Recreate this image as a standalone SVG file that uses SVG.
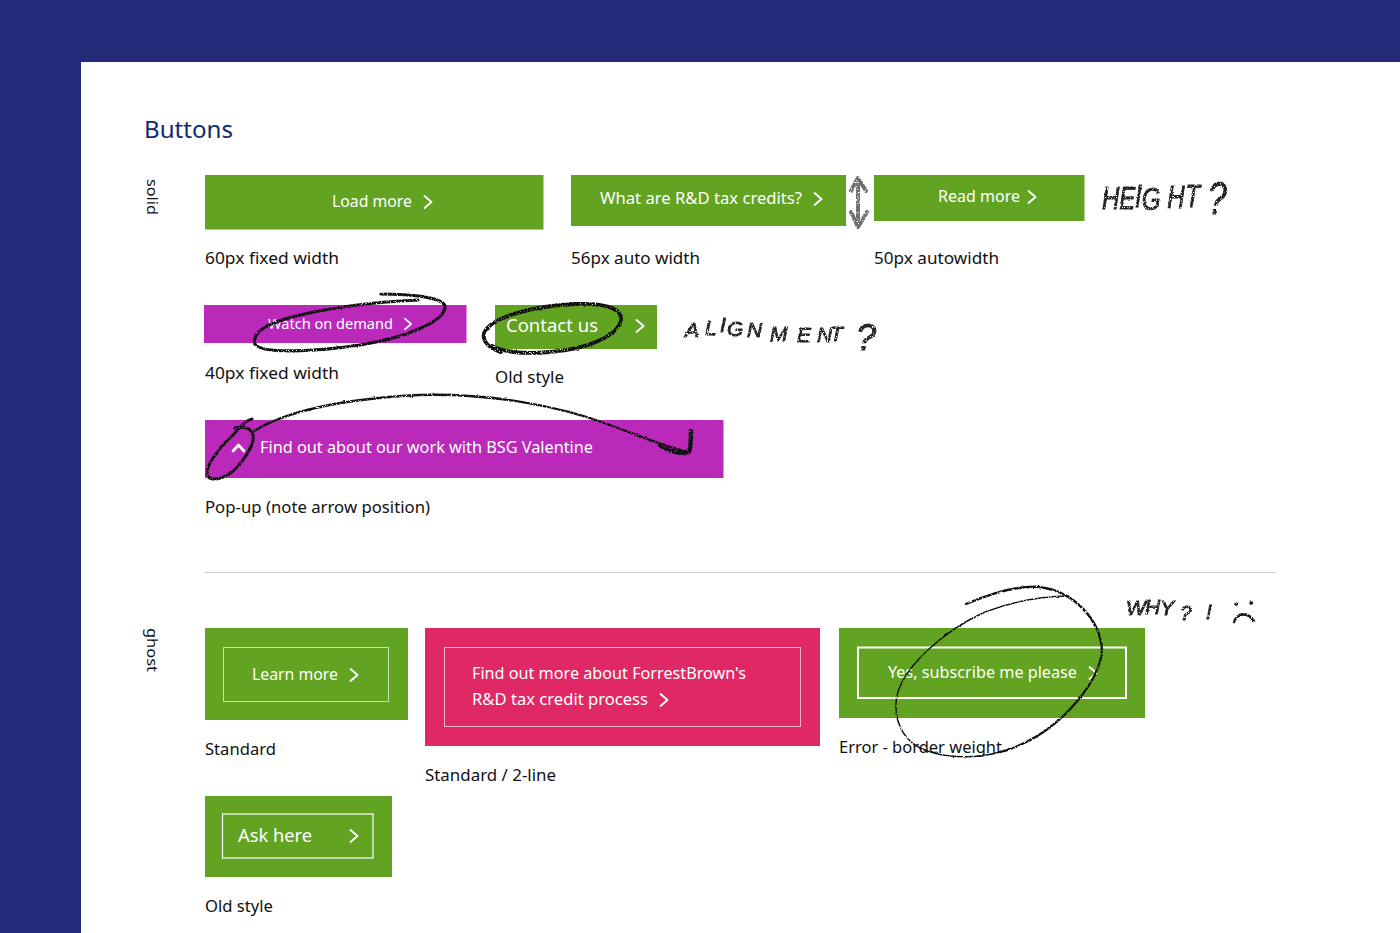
<svg xmlns="http://www.w3.org/2000/svg" width="1400" height="933" viewBox="0 0 1400 933">
<style>
text{font-family:"Noto Sans","Open Sans","DejaVu Sans",sans-serif;font-size:16px}
.lbl{fill:#111}
.btn{fill:#fff;font-size:16px}
.green{fill:#62a321}
.mag{fill:#bb29bb}
.pink{fill:#e02865}
.chev{fill:none;stroke:#fff;stroke-width:1.900;stroke-linecap:round;stroke-linejoin:round}
.ghost{fill:none;stroke:#fff}
.thin{stroke-opacity:.65}
.sk{fill:none;stroke:#111;stroke-linecap:round;filter:url(#rough)}
.handg{filter:url(#rough)}
.hand{fill:#222;stroke:#222;stroke-width:.9;font-family:"Liberation Sans",sans-serif;font-style:italic}
</style>
<defs>
<filter id="rough" filterUnits="userSpaceOnUse" x="0" y="0" width="1400" height="933" color-interpolation-filters="sRGB">
<feTurbulence type="fractalNoise" baseFrequency="0.25" numOctaves="2" seed="4" result="n"/>
<feDisplacementMap in="SourceGraphic" in2="n" scale="2" xChannelSelector="R" yChannelSelector="G" result="d"/>
<feTurbulence type="fractalNoise" baseFrequency="0.8" numOctaves="2" seed="9" result="g"/>
<feColorMatrix in="g" type="matrix" values="0 0 0 0 0 0 0 0 0 0 0 0 0 0 0 0 0 0 10 -3" result="m"/>
<feComposite in="d" in2="m" operator="in"/>
</filter>
<path id="ch" d="M-3.500-6L3.500 0L-3.500 6"/>
</defs>
<rect width="1400" height="933" fill="#232b78"/>
<rect x="81" y="62" width="1319" height="871" fill="#fff"/>
<text id="title" x="144" y="138" textLength="89" lengthAdjust="spacingAndGlyphs" style="font-size:23px" fill="#12296e">Buttons</text>
<text id="solid" transform="translate(147 179) rotate(90)" textLength="36" lengthAdjust="spacingAndGlyphs" style="font-size:15px" class="lbl">solid</text>
<text id="ghost" transform="translate(147 628) rotate(90)" textLength="44" lengthAdjust="spacingAndGlyphs" style="font-size:15px" class="lbl">ghost</text>
<rect id="divider" x="205" y="572" width="1071" height="1" fill="#cfd2d2"/>

<g id="btn-load"><rect class="green" x="205" y="175" width="338.500" height="54.500"/><text class="btn" x="332" y="207" textLength="80" lengthAdjust="spacingAndGlyphs">Load more</text><use href="#ch" class="chev" transform="translate(428 202)"/><text class="lbl" x="205" y="264" textLength="134" lengthAdjust="spacingAndGlyphs">60px fixed width</text></g>
<g id="btn-rd"><rect class="green" x="571" y="175" width="275" height="51"/><text class="btn" x="600" y="204" textLength="202" lengthAdjust="spacingAndGlyphs">What are R&amp;D tax credits?</text><use href="#ch" class="chev" transform="translate(818 199)"/><text class="lbl" x="571" y="264" textLength="129" lengthAdjust="spacingAndGlyphs">56px auto width</text></g>
<g id="btn-read"><rect class="green" x="874" y="175" width="210.500" height="46"/><text class="btn" x="938" y="202" textLength="82" lengthAdjust="spacingAndGlyphs">Read more</text><use href="#ch" class="chev" transform="translate(1032 197)"/><text class="lbl" x="874" y="264" textLength="125" lengthAdjust="spacingAndGlyphs">50px autowidth</text></g>
<g id="btn-watch"><rect class="mag" x="204" y="305" width="262.500" height="38"/><text class="btn" x="268" y="329" textLength="125" lengthAdjust="spacingAndGlyphs" style="font-size:15px">Watch on demand</text><use href="#ch" class="chev" transform="translate(408 324) scale(.9)"/><text class="lbl" x="205" y="379" textLength="134" lengthAdjust="spacingAndGlyphs">40px fixed width</text></g>
<g id="btn-contact"><rect class="green" x="495" y="305" width="162" height="44"/><text class="btn" x="506" y="332" textLength="92" lengthAdjust="spacingAndGlyphs" style="font-size:18px">Contact us</text><use href="#ch" class="chev" transform="translate(640 326)"/><text class="lbl" x="495" y="383" textLength="69" lengthAdjust="spacingAndGlyphs">Old style</text></g>
<g id="btn-popup"><rect class="mag" x="205" y="420" width="518.500" height="58"/><path class="chev" d="M233 451L238.500 445L244 451" style="stroke-width:2.800"/><text class="btn" x="260" y="453" textLength="333" lengthAdjust="spacingAndGlyphs">Find out about our work with BSG Valentine</text><text class="lbl" x="205" y="513" textLength="225" lengthAdjust="spacingAndGlyphs">Pop-up (note arrow position)</text></g>

<g id="ghost-learn"><rect class="green" x="205" y="628" width="203" height="92"/><rect class="ghost thin" x="223.500" y="647.500" width="165" height="54"/><text class="btn" x="252" y="680" textLength="86" lengthAdjust="spacingAndGlyphs">Learn more</text><use href="#ch" class="chev" transform="translate(354 675)"/><text class="lbl" x="205" y="755" textLength="71" lengthAdjust="spacingAndGlyphs">Standard</text></g>
<g id="ghost-find"><rect class="pink" x="425" y="628" width="395" height="118"/><rect class="ghost thin" x="444.500" y="647.500" width="356" height="79"/><text class="btn" x="472" y="679" textLength="274" lengthAdjust="spacingAndGlyphs">Find out more about ForrestBrown's</text><text class="btn" x="472" y="705" textLength="176" lengthAdjust="spacingAndGlyphs">R&amp;D tax credit process</text><use href="#ch" class="chev" transform="translate(664 700)"/><text class="lbl" x="425" y="781" textLength="131" lengthAdjust="spacingAndGlyphs">Standard / 2-line</text></g>
<g id="ghost-yes"><rect class="green" x="839" y="628" width="306" height="90"/><rect class="ghost" x="858" y="647.500" width="268" height="50.500" stroke-width="2"/><text class="btn" x="888" y="678" textLength="189" lengthAdjust="spacingAndGlyphs">Yes, subscribe me please</text><use href="#ch" class="chev" transform="translate(1093 673)"/><text class="lbl" x="839" y="753" textLength="163" lengthAdjust="spacingAndGlyphs">Error - border weight</text></g>
<g id="ghost-ask"><rect class="green" x="205" y="796" width="187" height="81"/><rect class="ghost" x="222.500" y="814" width="150.500" height="44" stroke-width="1.200"/><text class="btn" x="238" y="842" textLength="74" lengthAdjust="spacingAndGlyphs" style="font-size:18px">Ask here</text><use href="#ch" class="chev" transform="translate(354 836)"/><text class="lbl" x="205" y="912" textLength="68" lengthAdjust="spacingAndGlyphs">Old style</text></g>

<g id="sketches">
<path id="sk-height-arrow" d="M858 180V226M851 191L858 178L866 191M851 212L858 227L867 212" fill="none" stroke="#6f6f6f" stroke-width="4" stroke-linecap="round" stroke-linejoin="round" filter="url(#rough)"/>
<path class="sk" stroke-width="3.200" d="M381 294C410 294 442 297 445 306C446 320 410 337 360 345C320 351 262 355 255 344C252 334 262 324 300 315C335 307 375 302 418 300"/>
<path class="sk" stroke-width="3.800" d="M500 352C490 348 482 342 484 333C490 318 530 306 575 304C605 303 622 308 621 320C618 335 590 349 550 352C525 354 505 353 492 346"/>
<path class="sk" stroke-width="3" d="M252 419C245 421 240 427 232 436C218 449 206 465 207 475C211 483 228 478 238 466C250 452 256 440 252 432C248 427 240 427 235 428"/>
<path class="sk" stroke-width="2.400" d="M254 431C285 412 340 399 420 395C490 393 560 406 610 425C640 436 665 447 688 452"/>
<path class="sk" stroke-width="4.500" d="M660 445C668 451 680 454 689 452C691 446 691 437 691 431"/>
<path class="sk" stroke-width="2.400" d="M966 604C990 594 1020 585 1040 587C1075 592 1100 620 1102 650C1100 680 1065 725 1020 745C1010 750 1005 751 1000 752"/>
<path class="sk" stroke-width="1.500" d="M1000 752C980 758 945 760 920 748C900 738 893 715 897 695C905 665 945 630 985 612C1015 601 1045 596 1068 596"/>
<g class="handg"><text id="hand-height" class="hand" transform="translate(1102 209) scale(.75 1)" style="font-size:32px" x="0 23 44 53 87 111" y="0 0 -2 1 -1 -2">HEIGHT<tspan x="141" y="5" style="font-size:46px">?</tspan></text></g>
<g class="handg"><text id="hand-align" class="hand" style="font-size:21px" x="685 705 720 727 747 770 797 817 830" y="337 335 332 336 337 341 342 342 341">ALIGNMENT<tspan x="856" y="350" style="font-size:36px">?</tspan></text></g>
<g class="handg"><text id="hand-why" class="hand" style="font-size:21px" x="1126 1145 1160 1180 1206" y="615 614 615 620 619">WHY?!</text></g>
<g id="sad-face" class="sk"><path stroke-width="3.500" d="M1236 604h.5M1251 603h.5"/><path stroke-width="2.600" d="M1234 622C1238 612 1248 612 1254 621"/></g>
</g>
</svg>
